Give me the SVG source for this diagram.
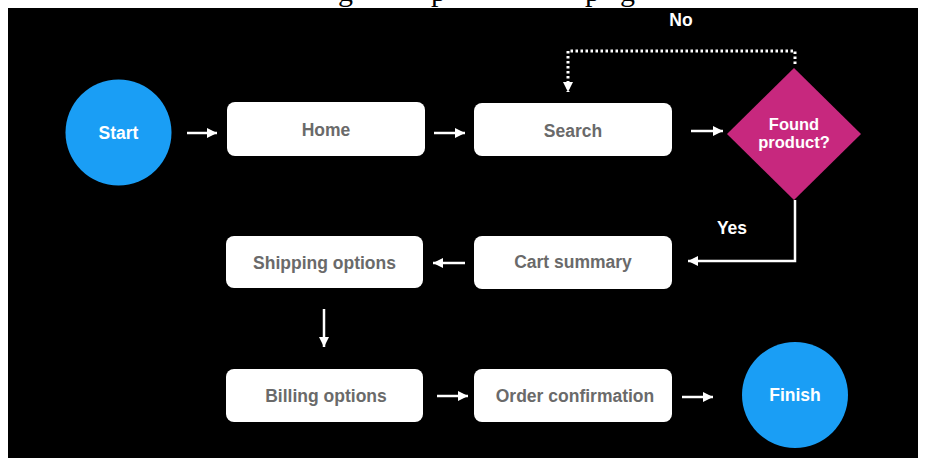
<svg xmlns="http://www.w3.org/2000/svg" width="925" height="465" viewBox="0 0 925 465">
  <style>
    .box { fill: #ffffff; }
    .box-label { font-family: "Liberation Sans", Arial, sans-serif; font-weight: bold; font-size: 17.5px; fill: #6a6a6a; text-anchor: middle; }
    .term { fill: #1a9ef5; }
    .term-label { font-family: "Liberation Sans", Arial, sans-serif; font-weight: bold; font-size: 17.5px; fill: #ffffff; text-anchor: middle; }
    .decision-label { font-family: "Liberation Sans", Arial, sans-serif; font-weight: bold; font-size: 16.5px; fill: #ffffff; text-anchor: middle; }
    .decision { fill: #c7287e; }
    .edge-label { font-family: "Liberation Sans", Arial, sans-serif; font-weight: bold; font-size: 17.5px; fill: #ffffff; text-anchor: middle; }
    .link { fill: none; stroke: #ffffff; stroke-width: 2.5; marker-end: url(#head); }
    .dotted { stroke-width: 3; stroke-dasharray: 2.5 2.5; }
    .title { font-family: "Liberation Serif", "Times New Roman", serif; font-size: 30px; fill: #000000; }
  </style>
  <defs>
    <marker id="head" markerUnits="userSpaceOnUse" markerWidth="11" markerHeight="11" refX="10" refY="5" orient="auto">
      <path d="M0,0 L10,5 L0,10 Z" fill="#ffffff"/>
    </marker>
  </defs>

  <rect x="0" y="0" width="925" height="465" fill="#ffffff"/>

  <!-- heading line, mostly hidden behind the dark panel -->
  <g id="heading" class="title">
    <text x="338" y="1">g</text>
    <text x="431" y="1">p</text>
    <text x="585" y="1">p</text>
    <text x="620" y="1">g</text>
  </g>

  <rect x="8" y="8" width="910" height="450" fill="#000000"/>

  <g id="connectors">
    <line class="link" x1="187" y1="133" x2="217" y2="133"/>
    <line class="link" x1="434" y1="133" x2="465" y2="133"/>
    <line class="link" x1="691" y1="131" x2="723" y2="131"/>
    <path class="link" d="M795,200 V261 H688"/>
    <path class="link dotted" d="M795,64 V51 H568 V92"/>
    <line class="link" x1="465" y1="263" x2="433" y2="263"/>
    <line class="link" x1="324" y1="309" x2="324" y2="347"/>
    <line class="link" x1="437" y1="396" x2="468" y2="396"/>
    <line class="link" x1="682" y1="397" x2="713" y2="397"/>
    <text class="edge-label" x="681" y="26">No</text>
    <text class="edge-label" x="732" y="234">Yes</text>
  </g>

  <g id="start">
    <circle class="term" cx="118.5" cy="132.5" r="53"/>
    <text class="term-label" x="118.5" y="138.5">Start</text>
  </g>

  <g id="home">
    <rect class="box" x="227" y="102" width="198" height="54" rx="8"/>
    <text class="box-label" x="326" y="135.5">Home</text>
  </g>

  <g id="search">
    <rect class="box" x="474" y="103" width="198" height="53" rx="8"/>
    <text class="box-label" x="573" y="136.5">Search</text>
  </g>

  <g id="found-product">
    <polygon class="decision" points="794,68 861,134 794,200 727,134"/>
    <text class="decision-label" x="794" y="130">Found</text>
    <text class="decision-label" x="794" y="148">product?</text>
  </g>

  <g id="cart-summary">
    <rect class="box" x="474" y="236" width="198" height="53" rx="8"/>
    <text class="box-label" x="573" y="268">Cart summary</text>
  </g>

  <g id="shipping-options">
    <rect class="box" x="226" y="236" width="197" height="52" rx="8"/>
    <text class="box-label" x="324.5" y="269">Shipping options</text>
  </g>

  <g id="billing-options">
    <rect class="box" x="226" y="369" width="197" height="53" rx="8"/>
    <text class="box-label" x="326" y="402">Billing options</text>
  </g>

  <g id="order-confirmation">
    <rect class="box" x="474" y="369" width="198" height="53" rx="8"/>
    <text class="box-label" x="575" y="402">Order confirmation</text>
  </g>

  <g id="finish">
    <circle class="term" cx="795" cy="395" r="53"/>
    <text class="term-label" x="795" y="401">Finish</text>
  </g>
</svg>
